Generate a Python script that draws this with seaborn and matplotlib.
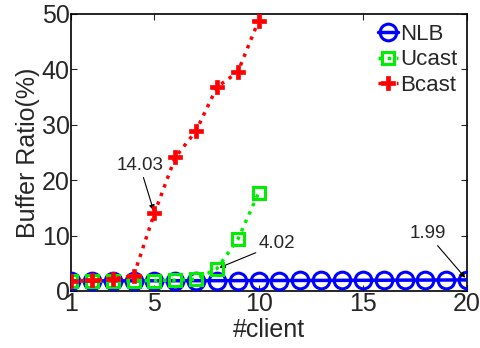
import matplotlib
matplotlib.use('Agg')
import matplotlib.pyplot as plt
import seaborn as sns

# values
clients_nlb = list(range(1, 21))
nlb = [1.80, 1.81, 1.82, 1.82, 1.83, 1.84, 1.85, 1.85, 1.86, 1.87,
       1.88, 1.89, 1.90, 1.91, 1.92, 1.93, 1.95, 1.96, 1.97, 1.99]
clients_cast = list(range(1, 11))
ucast = [1.80, 1.82, 1.83, 1.85, 1.88, 1.95, 2.10, 4.02, 9.3, 17.7]
bcast = [1.80, 1.90, 2.20, 2.70, 14.03, 24.1, 28.9, 36.8, 39.5, 48.8]
xticks = [1, 5, 10, 15, 20]
yticks = [0, 10, 20, 30, 40, 50]

sns.set_style('ticks')
plt.rcParams['font.family'] = ['Liberation Sans', 'DejaVu Sans']
plt.rcParams['xtick.direction'] = 'in'
plt.rcParams['ytick.direction'] = 'in'

fig = plt.figure(figsize=(4.8, 3.48), dpi=100)
ax = fig.add_axes([0.148, 0.164, 0.825, 0.796])

sns.lineplot(x=clients_nlb, y=nlb, ax=ax, color='#0000ff', linestyle='-', linewidth=2.5,
             marker='o', markersize=12, markerfacecolor='none', markeredgecolor='#0000ff',
             markeredgewidth=2.2, label='NLB', zorder=3)
sns.lineplot(x=clients_cast, y=ucast, ax=ax, color='#00ee00', linestyle=':', linewidth=2.5,
             marker='s', markersize=9, markerfacecolor='none', markeredgecolor='#00ee00',
             markeredgewidth=2.2, label='Ucast', zorder=4)
sns.lineplot(x=clients_cast, y=bcast, ax=ax, color='#ff0000', linestyle=':', linewidth=2.5,
             marker='P', markersize=10, markerfacecolor='#ff0000', markeredgecolor='#ff0000',
             markeredgewidth=0.5, label='Bcast', zorder=5)

ax.set_xlim(1, 20)
ax.set_ylim(0, 50)
ax.set_xticks(xticks)
ax.set_yticks(yticks)
ax.tick_params(labelsize=18, top=True, right=True, length=4, width=0.8, pad=1)
for s in ax.spines.values():
    s.set_linewidth(1.2)
    s.set_color('black')

ax.set_xlabel('#client', fontsize=18, labelpad=1)
ax.set_ylabel('Buffer Ratio(%)', fontsize=18, labelpad=1)

arrow = dict(arrowstyle='-|>', color='black', lw=0.8, mutation_scale=8, shrinkA=0, shrinkB=2)
ax.annotate('14.03', xy=(5, 14.03), xytext=(4.3, 22.6), fontsize=13.5, ha='center', va='center',
            arrowprops=arrow)
ax.annotate('4.02', xy=(8, 4.02), xytext=(10.9, 8.5), fontsize=13.5, ha='center', va='center',
            arrowprops=arrow)
ax.annotate('1.99', xy=(20, 1.99), xytext=(18.1, 10.3), fontsize=13.5, ha='center', va='center',
            arrowprops=arrow)

leg = ax.legend(loc='upper right', frameon=False, fontsize=16, handlelength=0.9,
                handletextpad=0.1, labelspacing=0.2, borderaxespad=0.05)
for h in leg.legend_handles:
    h.set_clip_on(False)

fig.savefig('out.png', dpi=100)
